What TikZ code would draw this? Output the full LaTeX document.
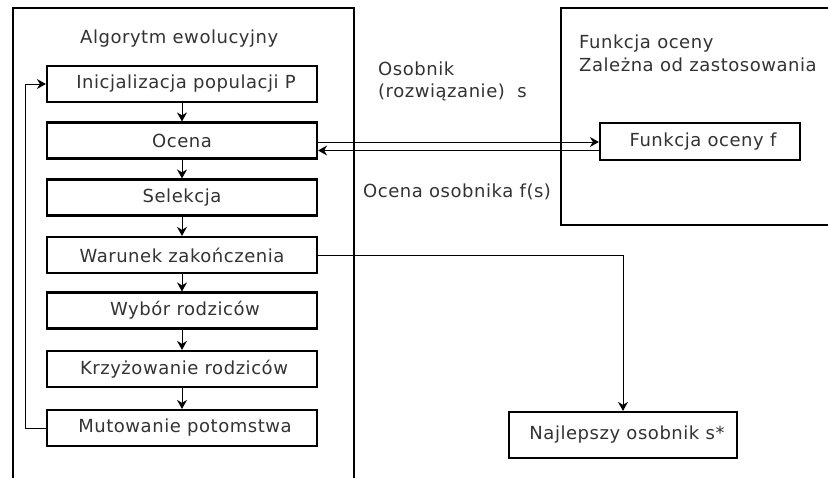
\documentclass[tikz,border=0pt]{standalone}
\usepackage{fontspec}
\setmainfont[LetterSpace=3]{DejaVu Sans}
\usetikzlibrary{arrows.meta}
\begin{document}
\begin{tikzpicture}[x=1pt,y=-1pt,
  box/.style={draw=black,line width=2.2pt,minimum width=270pt,minimum height=36pt,inner sep=0pt,font=\fontsize{18}{21}\selectfont,text=black!80},
  lbl/.style={anchor=base west,inner sep=0pt,font=\fontsize{18}{21}\selectfont,text=black!80},
  arr/.style={draw=black,line width=1pt,-{Stealth[length=9pt,width=10pt,inset=3pt]}},
  frame/.style={draw=black,line width=2.6pt}]
\useasboundingbox (0,0) rectangle (828,477);
\clip (0,0) rectangle (828,477);
\fill[white] (0,0) rectangle (828,477);
% outer boxes
\draw[frame] (13,480) -- (13,8) -- (354,8) -- (354,480);
\draw[frame] (832,8) -- (561,8) -- (561,225) -- (832,225);
% titles
\node[lbl] (t1) at (80,43) {Algorytm ewolucyjny};
\node[lbl] (t2) at (579,48) {Funkcja oceny};
\node[lbl] (t3) at (579,71) {Zależna od zastosowania};
\node[lbl] (l1) at (378,75) {Osobnik};
\node[lbl] (l2) at (378,97) {(rozwiązanie)\ \ s};
\node[lbl] (l3) at (363,197) {Ocena osobnika f(s)};
% boxes
\node[box] (init) at (182,84) {\hspace{8pt}Inicjalizacja populacji P};
\node[box] (ocena) at (182,140.5) {Ocena};
\node[box] (sel) at (182,197.5) {Selekcja};
\node[box] (war) at (182,255) {Warunek zakończenia};
\node[box] (wyb) at (182,310.5) {\hspace{6pt}Wybór rodziców};
\node[box] (krz) at (182,369) {\hspace{4pt}Krzyżowanie rodziców};
\node[box] (mut) at (182,428) {\hspace{6pt}Mutowanie potomstwa};
\node[box,minimum width=200pt,minimum height=37pt] (fun) at (700,141.5) {\hspace{6pt}Funkcja oceny f};
\node[box,minimum width=228pt,minimum height=46pt] (best) at (623,435) {\hspace{8pt}Najlepszy osobnik s*};
% flow arrows
\draw[arr] (init.south) -- (ocena.north);
\draw[arr] (ocena.south) -- (sel.north);
\draw[arr] (sel.south) -- (war.north);
\draw[arr] (war.south) -- (wyb.north);
\draw[arr] (wyb.south) -- (krz.north);
\draw[arr] (krz.south) -- (mut.north);
\draw[arr] (mut.west) -- ++(-20,0) |- (init.west);
\draw[arr] ([yshift=-1.5pt]ocena.east) -- ([yshift=-1.5pt]ocena.east -| fun.west);
\draw[arr] ([yshift=-10pt]ocena.east -| fun.west) -- ([yshift=-10pt]ocena.east);
\draw[arr] (war.east) -| (best.north);
\end{tikzpicture}
\end{document}
